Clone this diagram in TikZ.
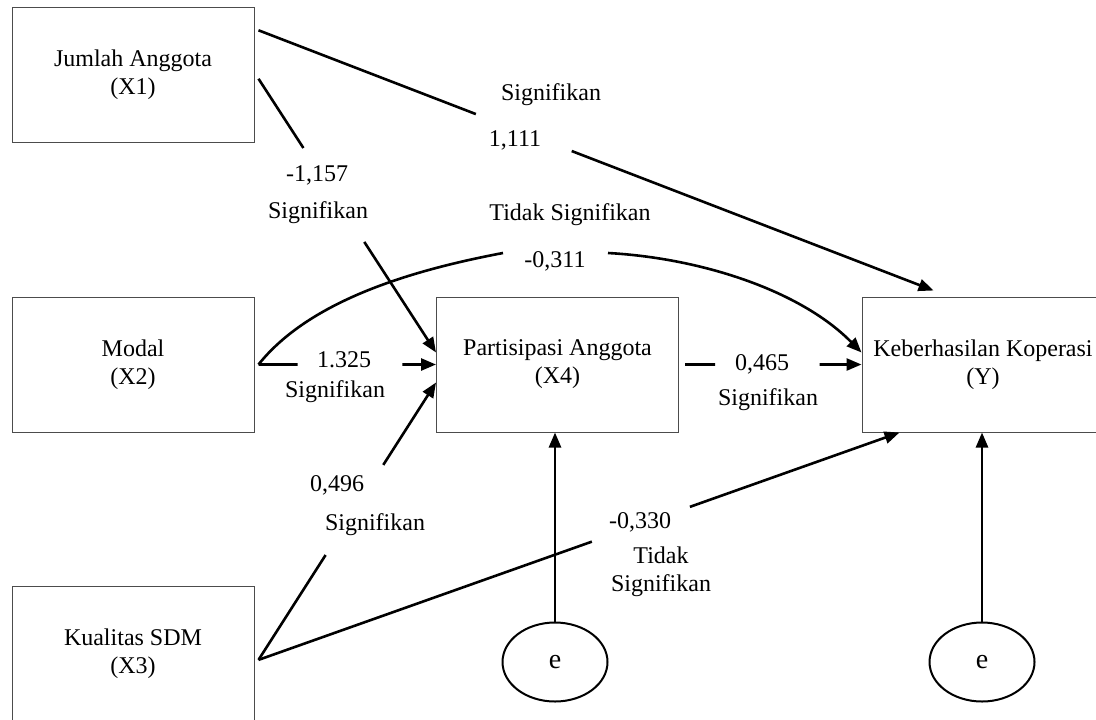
\documentclass[tikz,border=0pt]{standalone}
\usepackage{fontspec}
\setmainfont{Liberation Serif}
\usetikzlibrary{arrows.meta}
\usetikzlibrary{calc}
\usetikzlibrary{shapes.geometric}

\tikzset{
  var/.style={draw=black!70, line width=0.5pt, minimum width=121pt, minimum height=67.5pt, align=center, inner sep=2pt},
  err/.style={draw, ellipse, line width=1pt, minimum width=52.5pt, minimum height=39.5pt, inner sep=0pt, font=\fontsize{14}{16}\selectfont},
  link/.style={line width=1.3pt},
  arr/.style={link, -{Triangle[length=7.5pt,width=6pt]}},
  lbl/.style={inner sep=1pt, align=center}
}

\begin{document}
\begin{tikzpicture}[x=0.5pt,y=-0.5pt,font=\fontsize{12}{14}\selectfont]
        \useasboundingbox (0,0) rectangle (1096,719);
        \clip (0,0) rectangle (1096,719);

        % variables
        \node[var] (x1) at (133,74.5) {Jumlah Anggota\\(X1)};
        \node[var] (x2) at (133,364.5) {Modal\\(X2)};
        \node[var] (x3) at (133,653.5) {Kualitas SDM\\(X3)};
        \node[var] (x4) at (557.5,364.5) {Partisipasi Anggota\\(X4)};
        \node[var] (y) at (983,364.5) {Keberhasilan Koperasi\\(Y)};
        \node[err] (e1) at (555,662) {e};
        \node[err] (e2) at (982,662) {e};

        % ends of the paths
        \coordinate (s1) at ([xshift=2pt]x1.20);
        \coordinate (t1) at ([xshift=36pt,yshift=3pt]y.north west);
        \coordinate (s2) at ([xshift=2pt]x1.-2);
        \coordinate (t2) at ([yshift=6pt]x4.west);
        \coordinate (s3) at ([xshift=2pt]x2.east);
        \coordinate (t4) at ([yshift=6pt]y.west);
        \coordinate (s5) at ([xshift=2pt]x3.-3);
        \coordinate (t5) at ([yshift=-9pt]x4.west);
        \coordinate (t6) at ([xshift=19pt]y.south west);
        \coordinate (s7) at ([xshift=3pt]x4.east);

        % paths, broken where the labels sit
        \draw[arr] (s1) -- ($(s1)!.322!(t1)$) ($(s1)!.464!(t1)$) -- (t1);
        \draw[arr] (s2) -- ($(s2)!.253!(t2)$) ($(s2)!.596!(t2)$) -- (t2);
        \draw[arr] (s3) -- ($(s3)!.22!(x4.west)$) ($(s3)!.81!(x4.west)$) -- (x4.west);
        \draw[arr] (s3) .. controls (310,300) and (413,270) .. (503,253)
                   (608,253) .. controls (700,258) and (800,290) .. (t4);
        \draw[arr] (s5) -- ($(s5)!.378!(t5)$) ($(s5)!.703!(t5)$) -- (t5);
        \draw[arr] (s5) -- ($(s5)!.52!(t6)$) ($(s5)!.673!(t6)$) -- (t6);
        \draw[arr] (s7) -- ($(s7)!.17!(y.west)$) ($(s7)!.763!(y.west)$) -- (y.west);
        \draw[arr] (e1.north) -- (e1 |- x4.south);
        \draw[arr] (e2.north) -- (e2 |- y.south);

        % coefficients
        \node[lbl] (c1a) at (551,95) {Signifikan};
        \node[lbl] (c1b) at (515,140) {1,111};
        \node[lbl] (c2a) at (317,175) {-1,157};
        \node[lbl] (c2b) at (318,213) {Signifikan};
        \node[lbl] (c3a) at (570,215) {Tidak Signifikan};
        \node[lbl] (c3b) at (555,261) {-0,311};
        \node[lbl] (c4a) at (344,360) {1.325};
        \node[lbl] (c4b) at (335,392) {Signifikan};
        \node[lbl] (c5a) at (337,485) {0,496};
        \node[lbl] (c5b) at (375,525) {Signifikan};
        \node[lbl] (c6a) at (640,522) {-0,330};
        \node[lbl] (c6b) at (661,572) {Tidak\\Signifikan};
        \node[lbl] (c7a) at (762,364) {0,465};
        \node[lbl] (c7b) at (768,400) {Signifikan};
      \end{tikzpicture}
\end{document}
